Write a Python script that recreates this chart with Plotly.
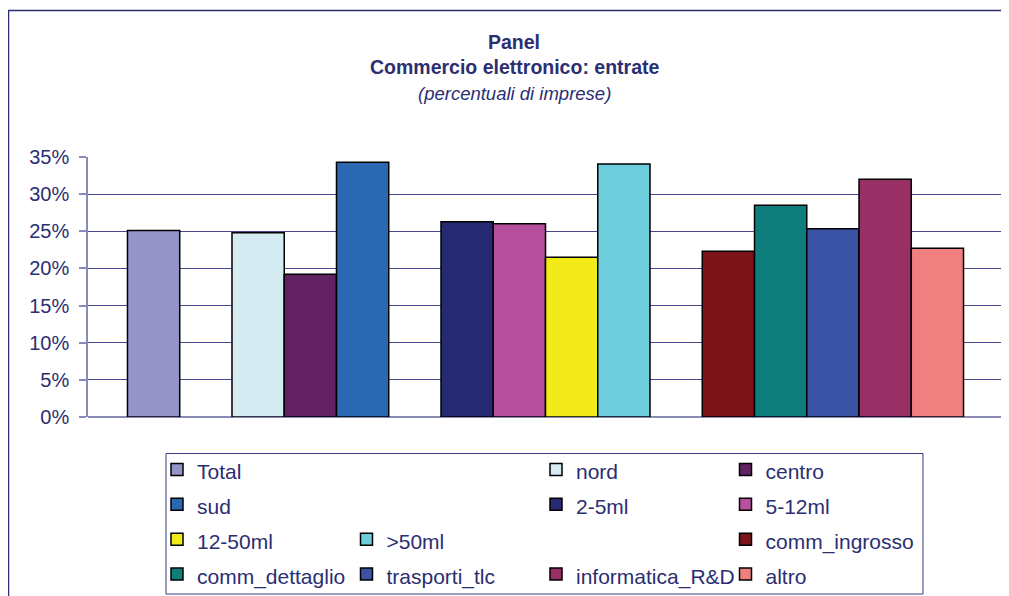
import plotly.graph_objects as go

# ---- data ----
categories = ["Panel"]
series_names = ["Total", "", "nord", "centro", "sud", "", "2-5ml", "5-12ml",
                "12-50ml", ">50ml", "", "comm_ingrosso", "comm_dettaglio",
                "trasporti_tlc", "informatica_R&D", "altro"]
series_values = [25.1, None, 24.8, 19.2, 34.3, None, 26.3, 26.0,
                 21.5, 34.05, None, 22.3, 28.5, 25.35, 32.0, 22.7]
series_colors = ["#9494c9", None, "#d5ecf3", "#612163", "#2a68b1", None, "#262a72", "#b6509c",
                 "#f2eb19", "#6ecddb", None, "#7d1419", "#0e7e7c",
                 "#3a53a4", "#983065", "#f07f80"]
y_ticks = [0, 5, 10, 15, 20, 25, 30, 35]
y_tick_labels = ["0%", "5%", "10%", "15%", "20%", "25%", "30%", "35%"]
title_lines = ["Panel", "Commercio elettronico: entrate", "(percentuali di imprese)"]

NAVY = "#2b2e72"
GRID = "#46468c"
AXIS = "#8a8ab8"
FONT = "Liberation Sans"

# the page body adds an 8px offset; positions below are in window pixels
OFF = 8
W, H = 1009 - OFF, 596 - OFF
PLOT_L, PLOT_R, PLOT_T, PLOT_B = 88, 1003, 157, 417   # window px
L = PLOT_L - OFF
T = PLOT_T - OFF
R = W - (PLOT_R - OFF)
B = H - (PLOT_B - OFF)
PW = PLOT_R - PLOT_L
PH = PLOT_B - PLOT_T


def px_x(x):
    return (x - PLOT_L) / PW


def px_y(y):
    return (PLOT_B - y) / PH


fig = go.Figure()
for name, val, col in zip(series_names, series_values, series_colors):
    blank = val is None
    fig.add_trace(go.Bar(
        x=categories,
        y=[0 if blank else val],
        name=" " if blank else '<span style="font-size:21px">' + name + "</span>",
        marker=dict(
            color="rgba(0,0,0,0)" if blank else col,
            line=dict(color="#000000", width=0 if blank else 1.5),
        ),
        showlegend=True,
        hoverinfo="skip" if blank else "y+name",
    ))

annotations = []
title_specs = [
    (title_lines[0], 41.7, dict(size=19.5, color=NAVY, family=FONT), True, False),
    (title_lines[1], 67.5, dict(size=19.5, color=NAVY, family=FONT), True, False),
    (title_lines[2], 93.0, dict(size=18.5, color=NAVY, family=FONT), False, True),
]
for txt, yc, f, bold, ital in title_specs:
    t = txt
    if bold:
        t = "<b>" + t + "</b>"
    if ital:
        t = "<i>" + t + "</i>"
    annotations.append(dict(
        text=t, xref="paper", yref="paper", x=px_x(514), y=px_y(yc),
        xanchor="center", yanchor="middle", showarrow=False, font=f,
    ))

shapes = [
    # outer chart border
    dict(type="rect", xref="paper", yref="paper",
         x0=px_x(8.5), x1=px_x(1030), y0=px_y(10.5), y1=px_y(640),
         line=dict(color=NAVY, width=1.5), fillcolor="rgba(0,0,0,0)", layer="below"),
    # legend frame
    dict(type="rect", xref="paper", yref="paper",
         x0=px_x(166), x1=px_x(923), y0=px_y(453.5), y1=px_y(594),
         line=dict(color="#3a3a80", width=1), fillcolor="white", layer="below"),
]

fig.update_layout(
    width=W, height=H,
    margin=dict(l=L, r=R, t=T, b=B, pad=0, autoexpand=False),
    paper_bgcolor="white", plot_bgcolor="white",
    barmode="group", bargap=0.0863, bargroupgap=0,
    font=dict(family=FONT, color=NAVY),
    showlegend=True,
    legend=dict(
        orientation="h",
        x=px_x(157), y=px_y(447), xanchor="left", yanchor="top",
        borderwidth=0, bgcolor="rgba(0,0,0,0)",
        font=dict(family=FONT, size=24.5, color=NAVY),
        entrywidth=144.5, entrywidthmode="pixels",
        traceorder="normal",
    ),
    annotations=annotations,
    shapes=shapes,
    xaxis=dict(showticklabels=False, showgrid=False, zeroline=False, showline=False,
               ticks="", fixedrange=True),
    yaxis=dict(
        range=[0, 35], tickmode="array", tickvals=y_ticks, ticktext=y_tick_labels,
        showgrid=True, gridcolor=GRID, gridwidth=1,
        zeroline=True, zerolinecolor=AXIS, zerolinewidth=1.5,
        showline=True, linecolor=AXIS, linewidth=1.5,
        ticks="outside", ticklen=7, tickcolor=AXIS, tickwidth=1.5,
        tickfont=dict(family=FONT, size=20, color=NAVY),
        ticklabelstandoff=6, fixedrange=True,
    ),
)

fig.write_html("out.html")
